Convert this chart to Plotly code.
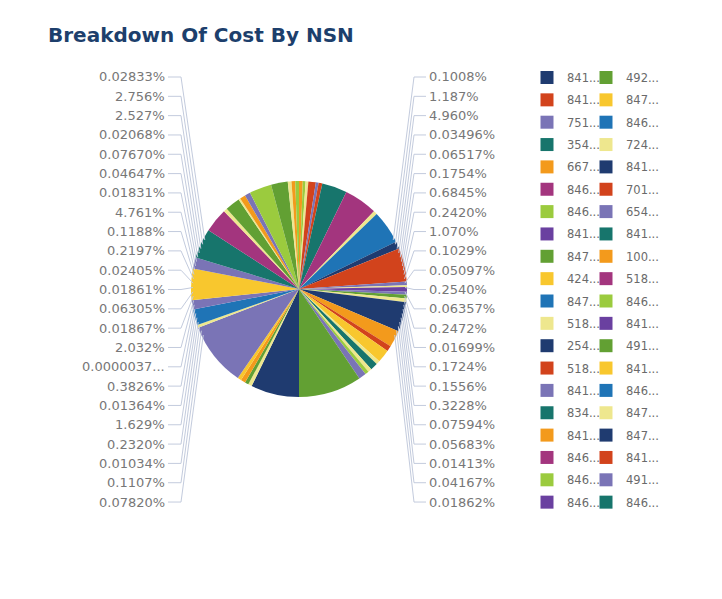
import plotly.graph_objects as go

# browser page has an 8px body margin; figure is sized to fit inside the window
OX, OY = 8, 8
W, H = 706, 583

# ---------------- data ----------------
palette = {
    "navy": "#1f3b70", "red": "#d2431c", "lavender": "#7a74b6", "teal": "#17756c",
    "orange": "#f39a1c", "magenta": "#a3357e", "lime": "#9bcb3e", "purple": "#6a40a0",
    "green": "#62a033", "yellow": "#f8c72e", "blue": "#1f74b6", "pale": "#eee78e",
}
palette_cycle = ["navy", "red", "lavender", "teal", "orange", "magenta",
                 "lime", "purple", "green", "yellow", "blue", "pale"]

# pie slices, clockwise from 12 o'clock (estimated relative shares)
slice_colors = ["orange", "lime", "pale", "red", "lavender", "red",
                "teal", "magenta", "pale", "blue", "navy", "red",
                "lavender", "pale", "purple", "lavender", "green", "pale",
                "navy", "orange", "red", "yellow", "pale", "teal",
                "pale", "lime", "lavender", "green", "navy", "pale",
                "green", "orange", "yellow", "lavender", "pale", "blue",
                "lavender", "yellow", "lavender", "teal", "magenta", "pale",
                "green", "pale", "orange", "lavender", "lime", "green",
                "pale", "orange", "lime"]
slice_shares = [2, 1.5, 1.5, 4, 1.5, 2,
                13.5, 18, 2, 18, 4, 18,
                2, 1, 2.5, 1.5, 2, 2,
                16, 9, 3, 7, 2, 4,
                2, 2, 4, 34, 26, 2,
                2, 2.5, 2, 34.5, 1.5, 8.5,
                5, 17, 6, 16, 13, 2,
                8, 1, 3, 3, 12, 9,
                2, 2, 2]

left_labels = ["0.02833%", "2.756%", "2.527%", "0.02068%", "0.07670%", "0.04647%",
               "0.01831%", "4.761%", "0.1188%", "0.2197%", "0.02405%", "0.01861%",
               "0.06305%", "0.01867%", "2.032%", "0.0000037...", "0.3826%", "0.01364%",
               "1.629%", "0.2320%", "0.01034%", "0.1107%", "0.07820%"]
right_labels = ["0.1008%", "1.187%", "4.960%", "0.03496%", "0.06517%", "0.1754%",
                "0.6845%", "0.2420%", "1.070%", "0.1029%", "0.05097%", "0.2540%",
                "0.06357%", "0.2472%", "0.01699%", "0.1724%", "0.1556%", "0.3228%",
                "0.07594%", "0.05683%", "0.01413%", "0.04167%", "0.01862%"]

legend_col1 = ["841...", "841...", "751...", "354...", "667...", "846...", "846...",
               "841...", "847...", "424...", "847...", "518...", "254...", "518...",
               "841...", "834...", "841...", "846...", "846...", "846..."]
legend_col2 = ["492...", "847...", "846...", "724...", "841...", "701...", "654...",
               "841...", "100...", "518...", "846...", "841...", "491...", "841...",
               "846...", "847...", "847...", "841...", "491...", "846..."]

# ---------------- layout helpers (window pixel -> paper) ----------------
def fx(px):
    return (px - OX) / W

def fy(py):
    return 1 - (py - OY) / H

cx, cy, R = 299, 289, 108
label_top, label_step = 77, 19.32
line_col = "#c3cbdd"
text_col = "#777777"
lab_font = dict(size=13, color=text_col, family="DejaVu Sans")

fig = go.Figure()

fig.add_trace(go.Pie(
    values=slice_shares,
    labels=[f"slice {i+1}" for i in range(len(slice_shares))],
    marker=dict(colors=[palette[c] for c in slice_colors], line=dict(width=0)),
    sort=False, direction="clockwise", rotation=0,
    textinfo="none", showlegend=False,
    domain=dict(x=[fx(cx - R), fx(cx + R)], y=[fy(cy + R), fy(cy - R)]),
))

# legend entries (two columns)
all_names = legend_col1 + legend_col2
for i, name in enumerate(all_names):
    fig.add_trace(go.Scatter(
        x=[None], y=[None], mode="markers", name=name,
        marker=dict(symbol="square", size=13, color=palette[palette_cycle[i % 12]],
                    line=dict(width=0)),
        legend="legend" if i < 20 else "legend2",
        legendgroup=f"g{i}",
    ))

annotations = []
shapes = []

n = len(left_labels)
for i, t in enumerate(left_labels):
    y = label_top + i * label_step
    annotations.append(dict(x=fx(167), y=fy(y), xref="paper", yref="paper",
                            text=t, showarrow=False, xanchor="right", yanchor="middle",
                            font=lab_font))
    ay = 240 + (335 - 240) * i / (n - 1)
    ax = cx - (R ** 2 - (ay - cy) ** 2) ** 0.5 + 2
    shapes.append(dict(type="path", xref="paper", yref="paper",
                       path=f"M {fx(168)},{fy(y)} L {fx(181)},{fy(y)} L {fx(ax)},{fy(ay)}",
                       line=dict(color=line_col, width=1)))

n = len(right_labels)
for i, t in enumerate(right_labels):
    y = label_top + i * label_step
    annotations.append(dict(x=fx(427), y=fy(y), xref="paper", yref="paper",
                            text=t, showarrow=False, xanchor="left", yanchor="middle",
                            font=lab_font))
    ay = 240 + (335 - 240) * i / (n - 1)
    ax = cx + (R ** 2 - (ay - cy) ** 2) ** 0.5 - 2
    shapes.append(dict(type="path", xref="paper", yref="paper",
                       path=f"M {fx(426)},{fy(y)} L {fx(414)},{fy(y)} L {fx(ax)},{fy(ay)}",
                       line=dict(color=line_col, width=1)))

leg_common = dict(
    font=dict(size=11.5, color="#6a6a6a", family="DejaVu Sans"),
    bgcolor="rgba(0,0,0,0)", borderwidth=0, tracegroupgap=3.35,
    xanchor="left", yanchor="top", yref="paper", xref="paper",
    itemwidth=30,
)

fig.update_layout(
    width=W, height=H,
    margin=dict(l=0, r=0, t=0, b=0),
    paper_bgcolor="white", plot_bgcolor="white",
    title=dict(text="<b>Breakdown Of Cost By NSN</b>", x=fx(48), xanchor="left",
               y=fy(35), yanchor="middle",
               font=dict(size=20, color="#1d3f6c", family="DejaVu Sans")),
    legend=dict(x=fx(527), y=fy(63), **leg_common),
    legend2=dict(x=fx(586), y=fy(63), **leg_common),
    annotations=annotations,
    shapes=shapes,
    xaxis=dict(visible=False), yaxis=dict(visible=False),
)

fig.write_html("out.html")
